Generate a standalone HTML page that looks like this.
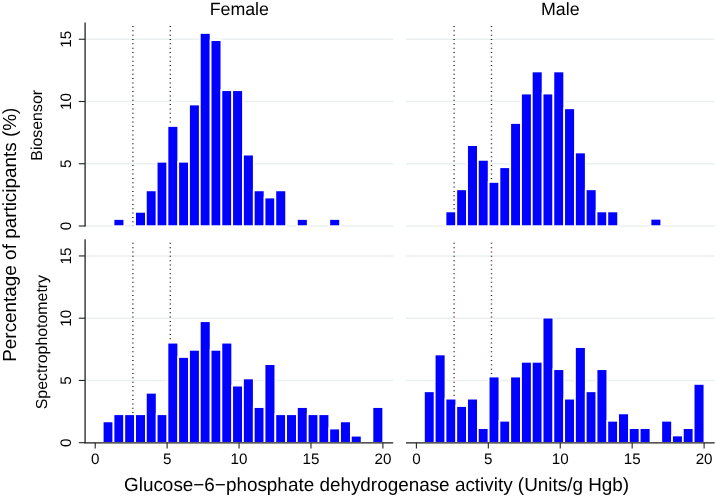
<!DOCTYPE html>
<html lang="en">
<head>
<meta charset="utf-8">
<title>G6PD activity histograms</title>
<style>
html,body{margin:0;padding:0;background:#fff;}
body{width:717px;height:500px;overflow:hidden;font-family:"Liberation Sans",Arial,sans-serif;}
svg{display:block;will-change:transform;opacity:.999;}
text{text-rendering:geometricPrecision;}
</style>
</head>
<body>
<svg width="717" height="500" viewBox="0 0 717 500">
<rect width="717" height="500" fill="#fff"/>
<g stroke="#eaf0ef" stroke-width="1.4">
<line x1="85.5" x2="393.2" y1="226" y2="226"/>
<line x1="406" x2="714.6" y1="226" y2="226"/>
<line x1="85.5" x2="393.2" y1="163.75" y2="163.75"/>
<line x1="406" x2="714.6" y1="163.75" y2="163.75"/>
<line x1="85.5" x2="393.2" y1="101.5" y2="101.5"/>
<line x1="406" x2="714.6" y1="101.5" y2="101.5"/>
<line x1="85.5" x2="393.2" y1="39.25" y2="39.25"/>
<line x1="406" x2="714.6" y1="39.25" y2="39.25"/>
<line x1="85.5" x2="393.2" y1="442.7" y2="442.7"/>
<line x1="406" x2="714.6" y1="442.7" y2="442.7"/>
<line x1="85.5" x2="393.2" y1="380.45" y2="380.45"/>
<line x1="406" x2="714.6" y1="380.45" y2="380.45"/>
<line x1="85.5" x2="393.2" y1="318.2" y2="318.2"/>
<line x1="406" x2="714.6" y1="318.2" y2="318.2"/>
<line x1="85.5" x2="393.2" y1="255.95" y2="255.95"/>
<line x1="406" x2="714.6" y1="255.95" y2="255.95"/>
</g>
<line x1="132.89" x2="132.89" y1="26" y2="226" stroke="#222" stroke-width="1.4" stroke-dasharray="1 3.34"/>
<line x1="132.89" x2="132.89" y1="242.8" y2="442.7" stroke="#222" stroke-width="1.4" stroke-dasharray="1 3.34"/>
<line x1="170.29" x2="170.29" y1="26" y2="226" stroke="#222" stroke-width="1.4" stroke-dasharray="1 3.34"/>
<line x1="170.29" x2="170.29" y1="242.8" y2="442.7" stroke="#222" stroke-width="1.4" stroke-dasharray="1 3.34"/>
<line x1="454.09" x2="454.09" y1="26" y2="226" stroke="#222" stroke-width="1.4" stroke-dasharray="1 3.34"/>
<line x1="454.09" x2="454.09" y1="242.8" y2="442.7" stroke="#4a1525" stroke-width="1.4" stroke-dasharray="1 3.34"/>
<line x1="491.49" x2="491.49" y1="26" y2="226" stroke="#222" stroke-width="1.4" stroke-dasharray="1 3.34"/>
<line x1="491.49" x2="491.49" y1="242.8" y2="442.7" stroke="#4a1525" stroke-width="1.4" stroke-dasharray="1 3.34"/>
<g fill="#0000ff" stroke="#fff" stroke-width="1.75">
<rect x="113.51" y="218.99" width="10.79" height="7.16"/>
<rect x="135.09" y="211.84" width="10.79" height="14.31"/>
<rect x="145.88" y="190.37" width="10.79" height="35.78"/>
<rect x="156.67" y="161.75" width="10.79" height="64.4"/>
<rect x="167.46" y="125.98" width="10.79" height="100.17"/>
<rect x="178.24" y="161.75" width="10.79" height="64.4"/>
<rect x="189.03" y="104.51" width="10.79" height="121.64"/>
<rect x="199.82" y="32.96" width="10.79" height="193.19"/>
<rect x="210.61" y="40.12" width="10.79" height="186.03"/>
<rect x="221.4" y="90.2" width="10.79" height="135.95"/>
<rect x="232.19" y="90.2" width="10.79" height="135.95"/>
<rect x="242.98" y="154.6" width="10.79" height="71.55"/>
<rect x="253.77" y="190.37" width="10.79" height="35.78"/>
<rect x="264.55" y="197.53" width="10.79" height="28.62"/>
<rect x="275.34" y="190.37" width="10.79" height="35.78"/>
<rect x="296.92" y="218.99" width="10.79" height="7.16"/>
<rect x="329.29" y="218.99" width="10.79" height="7.16"/>
</g>
<g fill="#0000ff" stroke="#fff" stroke-width="1.75">
<rect x="445.5" y="211.42" width="10.79" height="14.73"/>
<rect x="456.29" y="189.32" width="10.79" height="36.83"/>
<rect x="467.08" y="145.11" width="10.79" height="81.04"/>
<rect x="477.87" y="159.85" width="10.79" height="66.3"/>
<rect x="488.65" y="181.95" width="10.79" height="44.2"/>
<rect x="499.44" y="167.22" width="10.79" height="58.93"/>
<rect x="510.23" y="123.01" width="10.79" height="103.14"/>
<rect x="521.02" y="93.55" width="10.79" height="132.6"/>
<rect x="531.81" y="71.45" width="10.79" height="154.7"/>
<rect x="542.6" y="93.55" width="10.79" height="132.6"/>
<rect x="553.39" y="71.45" width="10.79" height="154.7"/>
<rect x="564.18" y="108.28" width="10.79" height="117.87"/>
<rect x="574.97" y="152.48" width="10.79" height="73.67"/>
<rect x="585.75" y="189.32" width="10.79" height="36.83"/>
<rect x="596.54" y="211.42" width="10.79" height="14.73"/>
<rect x="607.33" y="211.42" width="10.79" height="14.73"/>
<rect x="650.49" y="218.78" width="10.79" height="7.37"/>
</g>
<g fill="#0000ff" stroke="#fff" stroke-width="1.75">
<rect x="102.72" y="421.38" width="10.79" height="21.47"/>
<rect x="113.51" y="414.23" width="10.79" height="28.62"/>
<rect x="124.3" y="414.23" width="10.79" height="28.62"/>
<rect x="135.09" y="414.23" width="10.79" height="28.62"/>
<rect x="145.88" y="392.76" width="10.79" height="50.09"/>
<rect x="156.67" y="414.23" width="10.79" height="28.62"/>
<rect x="167.46" y="342.68" width="10.79" height="100.17"/>
<rect x="178.24" y="356.99" width="10.79" height="85.86"/>
<rect x="189.03" y="349.83" width="10.79" height="93.02"/>
<rect x="199.82" y="321.21" width="10.79" height="121.64"/>
<rect x="210.61" y="349.83" width="10.79" height="93.02"/>
<rect x="221.4" y="342.68" width="10.79" height="100.17"/>
<rect x="232.19" y="385.61" width="10.79" height="57.24"/>
<rect x="242.98" y="378.45" width="10.79" height="64.4"/>
<rect x="253.77" y="407.07" width="10.79" height="35.78"/>
<rect x="264.55" y="364.14" width="10.79" height="78.71"/>
<rect x="275.34" y="414.23" width="10.79" height="28.62"/>
<rect x="286.13" y="414.23" width="10.79" height="28.62"/>
<rect x="296.92" y="407.07" width="10.79" height="35.78"/>
<rect x="307.71" y="414.23" width="10.79" height="28.62"/>
<rect x="318.5" y="414.23" width="10.79" height="28.62"/>
<rect x="329.29" y="428.54" width="10.79" height="14.31"/>
<rect x="340.07" y="421.38" width="10.79" height="21.47"/>
<rect x="350.86" y="435.69" width="10.79" height="7.16"/>
<rect x="372.44" y="407.07" width="10.79" height="35.78"/>
</g>
<g fill="#0000ff" stroke="#fff" stroke-width="1.75">
<rect x="423.92" y="391.28" width="10.79" height="51.57"/>
<rect x="434.71" y="354.45" width="10.79" height="88.4"/>
<rect x="445.5" y="398.65" width="10.79" height="44.2"/>
<rect x="456.29" y="406.02" width="10.79" height="36.83"/>
<rect x="467.08" y="398.65" width="10.79" height="44.2"/>
<rect x="477.87" y="428.12" width="10.79" height="14.73"/>
<rect x="488.65" y="376.55" width="10.79" height="66.3"/>
<rect x="499.44" y="420.75" width="10.79" height="22.1"/>
<rect x="510.23" y="376.55" width="10.79" height="66.3"/>
<rect x="521.02" y="361.81" width="10.79" height="81.04"/>
<rect x="531.81" y="361.81" width="10.79" height="81.04"/>
<rect x="542.6" y="317.61" width="10.79" height="125.24"/>
<rect x="553.39" y="369.18" width="10.79" height="73.67"/>
<rect x="564.18" y="398.65" width="10.79" height="44.2"/>
<rect x="574.97" y="347.08" width="10.79" height="95.77"/>
<rect x="585.75" y="391.28" width="10.79" height="51.57"/>
<rect x="596.54" y="369.18" width="10.79" height="73.67"/>
<rect x="607.33" y="420.75" width="10.79" height="22.1"/>
<rect x="618.12" y="413.38" width="10.79" height="29.47"/>
<rect x="628.91" y="428.12" width="10.79" height="14.73"/>
<rect x="639.7" y="428.12" width="10.79" height="14.73"/>
<rect x="661.27" y="420.75" width="10.79" height="22.1"/>
<rect x="672.06" y="435.48" width="10.79" height="7.37"/>
<rect x="682.85" y="428.12" width="10.79" height="14.73"/>
<rect x="693.64" y="383.92" width="10.79" height="58.93"/>
</g>
<g stroke="#222" stroke-width="1.3" fill="none">
<line x1="85.1" x2="85.1" y1="22.6" y2="226.5"/>
<line x1="85.1" x2="85.1" y1="239.3" y2="443.3"/>
<line x1="84.5" x2="393.2" y1="442.95" y2="442.95"/>
<line x1="406" x2="714.6" y1="442.95" y2="442.95"/>
</g>
<g stroke="#222" stroke-width="1.1">
<line x1="78.8" x2="85.1" y1="226" y2="226"/>
<line x1="78.8" x2="85.1" y1="163.75" y2="163.75"/>
<line x1="78.8" x2="85.1" y1="101.5" y2="101.5"/>
<line x1="78.8" x2="85.1" y1="39.25" y2="39.25"/>
<line x1="78.8" x2="85.1" y1="442.7" y2="442.7"/>
<line x1="78.8" x2="85.1" y1="380.45" y2="380.45"/>
<line x1="78.8" x2="85.1" y1="318.2" y2="318.2"/>
<line x1="78.8" x2="85.1" y1="255.95" y2="255.95"/>
<line x1="95.2" x2="95.2" y1="442.7" y2="448.6"/>
<line x1="167.12" x2="167.12" y1="442.7" y2="448.6"/>
<line x1="239.05" x2="239.05" y1="442.7" y2="448.6"/>
<line x1="310.98" x2="310.98" y1="442.7" y2="448.6"/>
<line x1="382.9" x2="382.9" y1="442.7" y2="448.6"/>
<line x1="416.4" x2="416.4" y1="442.7" y2="448.6"/>
<line x1="488.32" x2="488.32" y1="442.7" y2="448.6"/>
<line x1="560.25" x2="560.25" y1="442.7" y2="448.6"/>
<line x1="632.17" x2="632.17" y1="442.7" y2="448.6"/>
<line x1="704.1" x2="704.1" y1="442.7" y2="448.6"/>
</g>
<g font-family="'Liberation Sans', Arial, sans-serif" fill="#000">
<g font-size="15.2" text-anchor="middle">
<text x="95.2" y="463.7">0</text>
<text x="167.12" y="463.7">5</text>
<text x="239.05" y="463.7">10</text>
<text x="310.98" y="463.7">15</text>
<text x="382.9" y="463.7">20</text>
<text x="416.4" y="463.7">0</text>
<text x="488.32" y="463.7">5</text>
<text x="560.25" y="463.7">10</text>
<text x="632.17" y="463.7">15</text>
<text x="704.1" y="463.7">20</text>
<text transform="translate(71.3 226) rotate(-90)">0</text>
<text transform="translate(71.3 163.75) rotate(-90)">5</text>
<text transform="translate(71.3 101.5) rotate(-90)">10</text>
<text transform="translate(71.3 39.25) rotate(-90)">15</text>
<text transform="translate(71.3 442.7) rotate(-90)">0</text>
<text transform="translate(71.3 380.45) rotate(-90)">5</text>
<text transform="translate(71.3 318.2) rotate(-90)">10</text>
<text transform="translate(71.3 255.95) rotate(-90)">15</text>
</g>
<g font-size="15.9" text-anchor="middle">
<text transform="translate(42.4 125.3) rotate(-90)">Biosensor</text>
<text transform="translate(47 342.1) rotate(-90)">Spectrophotometry</text>
</g>
<g font-size="17.8" text-anchor="middle">
<text x="239.3" y="14.6">Female</text>
<text x="560.3" y="14.6">Male</text>
</g>
<g font-size="18.9" text-anchor="middle">
<text x="376.6" y="491.4">Glucose−6−phosphate dehydrogenase activity (Units/g Hgb)</text>
<text transform="translate(16.2 234.7) rotate(-90)">Percentage of participants (%)</text>
</g>
</g>
</svg>
</body>
</html>
